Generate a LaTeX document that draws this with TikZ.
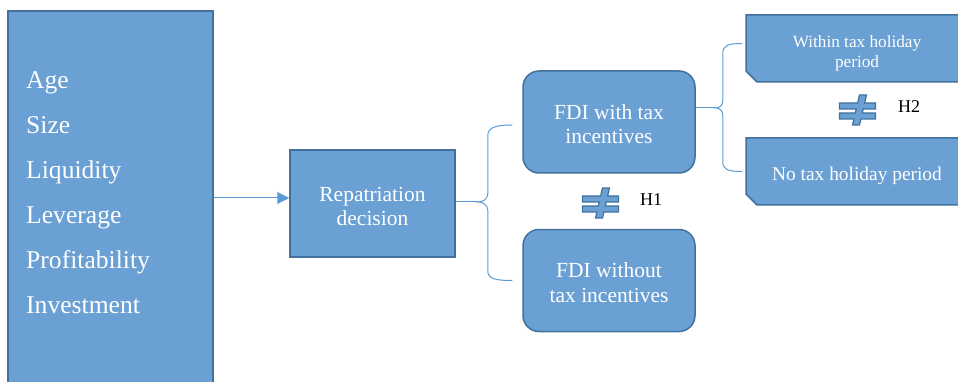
\documentclass[tikz,border=0pt]{standalone}
\usepackage{fontspec}
\setmainfont{Liberation Serif}
\usetikzlibrary{arrows.meta, calc}

\definecolor{boxfill}{RGB}{106,160,211}
\definecolor{boxline}{RGB}{65,113,156}
\definecolor{linkblue}{RGB}{91,155,213}

\begin{document}
\begin{tikzpicture}[
  x=1pt, y=-1pt,
  plainbox/.style={draw=boxline, fill=boxfill, line width=1.5pt, inner sep=0pt},
  roundbox/.style={plainbox, rounded corners=16pt,
                   minimum width=172pt, minimum height=102pt},
  snipbox/.style={inner sep=0pt, outer sep=0pt,
                  minimum width=222pt, minimum height=67pt},
  boxtext/.style={text=white, align=center, inner sep=0pt,
                  font=\fontsize{21.5}{24.5}\selectfont},
  link/.style={draw=linkblue, line width=1pt},
  factorlab/.style={anchor=base west, text=white, inner sep=0pt,
                    font=\fontsize{25.6}{30}\selectfont},
  hyplab/.style={anchor=base west, inner sep=0pt,
                 font=\fontsize{18}{20}\selectfont}
]

\useasboundingbox (0,0) rectangle (958,382);
\clip (0,0) rectangle (958,382);

\def\RowY{44.8}
\def\Snip{11}

% firm characteristics
\node[plainbox, minimum width=205pt, minimum height=374pt] (factors) at (110.5,198) {};
\foreach \lab [count=\i] in {Age, Size, Liquidity, Leverage, Profitability, Investment}{
  \node[factorlab] (f\i) at (26, {89+\RowY*(\i-1)}) {\lab};
}

\node[plainbox, minimum width=165pt, minimum height=107pt] (repat) at (372.5,203.5) {};
\node[roundbox] (fditax) at (609,122)   {};
\node[roundbox] (fdinot) at (609,280.5) {};
\node[snipbox] (within) at (857,48.5)  {};
\node[snipbox] (notax)  at (857,171.5) {};

% snipped corners
\foreach \b in {within, notax}{
  \filldraw[fill=boxfill, draw=boxline, line width=1.5pt]
    (\b.north west) -- (\b.north east) -- (\b.south east)
    -- ($(\b.south west)+(\Snip,0)$) -- ($(\b.south west)+(0,-\Snip)$) -- cycle;
}

\node[boxtext] (repattxt)  at ($(repat)+(0,3)$)  {Repatriation\\decision};
\node[boxtext] (fditaxtxt) at ($(fditax)+(0,2)$) {FDI with tax\\incentives};
\node[boxtext] (fdinottxt) at ($(fdinot)+(0,2)$) {FDI without\\tax incentives};
\node[boxtext, font=\fontsize{17.2}{20}\selectfont] (withintxt) at ($(within)+(0,5)$) {Within tax holiday\\period};
\node[boxtext, font=\fontsize{19.4}{22}\selectfont] (notaxtxt)  at ($(notax)+(0,4)$)  {No tax holiday period};

\draw[link, -{Triangle[length=12pt, width=12pt]}] (factors.east) -- (factors.east -| repat.west);

% brace 1
\coordinate (t1) at ($(repat.east)+(22,-1.5)$);
\draw[link] (t1 -| repat.east) -- (t1);
\draw[link] ($(fditax.west)+(-10,3)$) .. controls +(-18,0) and +(0,-8) .. ($(t1|-fditax.west)+(10,14)$)
  -- ($(t1)+(10,-8)$) .. controls +(0,6) and +(4,0) .. (t1)
  .. controls +(4,0) and +(0,-6) .. ($(t1)+(10,8)$)
  -- ($(t1|-fdinot.west)+(10,-10)$) .. controls +(0,8) and +(-18,0) .. ($(fdinot.west)+(-10,0)$);

% brace 2
\coordinate (t2) at ($(fditax.east)+(20,-14)$);
\draw[link] (t2 -| fditax.east) -- (t2);
\draw[link] ($(within.west)+(-4,-5)$) .. controls +(-14,0) and +(0,-8) .. ($(t2|-within.west)+(7,5)$)
  -- ($(t2)+(7,-7)$) .. controls +(0,5) and +(3,0) .. (t2)
  .. controls +(3,0) and +(0,-5) .. ($(t2)+(7,7)$)
  -- ($(t2|-notax.west)+(7,-10)$) .. controls +(0,8) and +(-14,0) .. ($(notax.west)+(-4,0)$);

% not-equal signs
\foreach \cx/\cy in {600.5/203, 857.5/110}{
  \filldraw[fill=boxfill, draw=boxline, line width=1.2pt, shift={(\cx,\cy)}]
    (2,-15) -- (9,-15) -- (7.13,-7) -- (18,-7) -- (18,-1) -- (5.73,-1)
    -- (4.8,3) -- (18,3) -- (18,9) -- (3.4,9) -- (2,15) -- (-5,15)
    -- (-3.6,9) -- (-18,9) -- (-18,3) -- (-2.2,3) -- (-1.27,-1)
    -- (-18,-1) -- (-18,-7) -- (0.13,-7) -- cycle;
}

\node[hyplab] (h1) at (640,206) {H1};
\node[hyplab] (h2) at (898,113) {H2};

\end{tikzpicture}
\end{document}
